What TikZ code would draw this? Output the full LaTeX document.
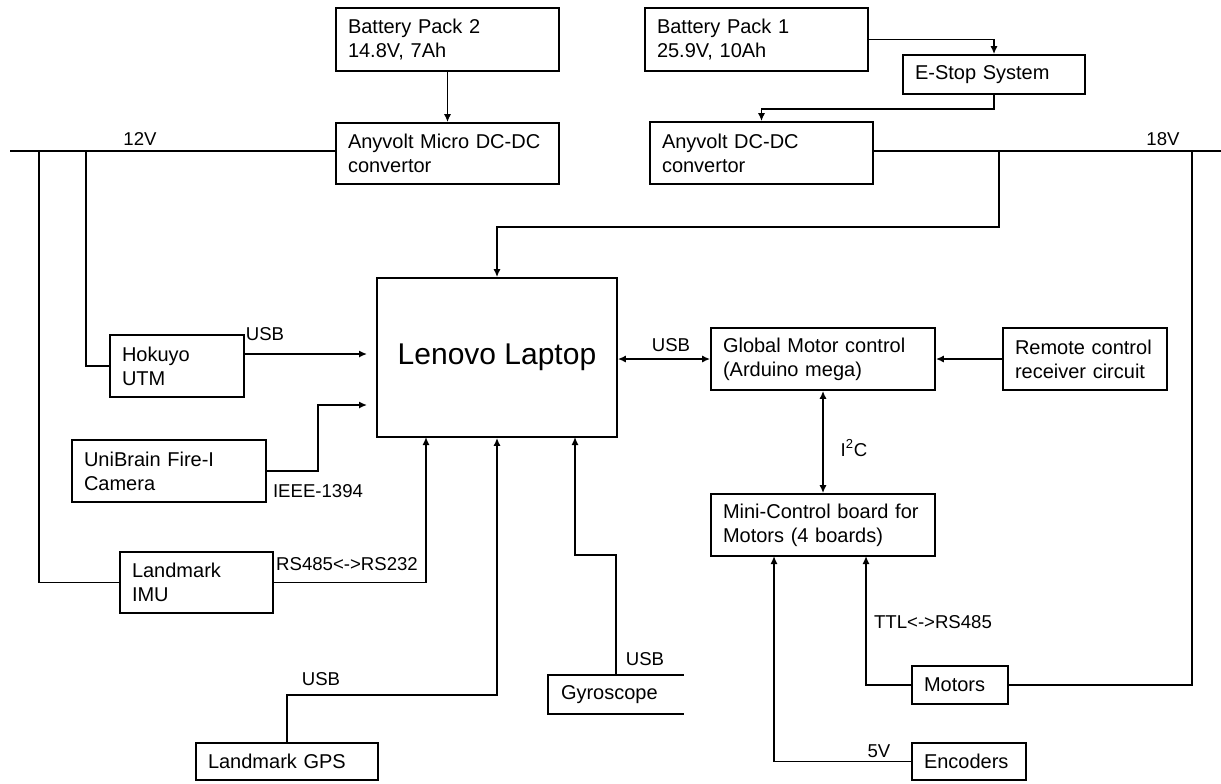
\documentclass[tikz,border=0pt]{standalone}
\usepackage{fontspec}
\setmainfont{Liberation Sans}
\usetikzlibrary{arrows.meta,positioning}

\begin{document}
\begin{tikzpicture}[x=0.5pt,y=-0.5pt,>={Latex[length=4pt,width=3.6pt]},line width=0.9pt,
  blk/.style={draw,align=left,inner xsep=6pt,inner ysep=0pt,font=\fontsize{10}{12}\selectfont},
  lbl/.style={font=\fontsize{9.3}{11}\selectfont,inner sep=0pt}]
\useasboundingbox (0,0) rectangle (1221,783);
\node[blk,text width=99.5pt,minimum height=31.5pt] (bp2) at (447.5,39.5) {Battery Pack 2\\14.8V, 7Ah};
\node[blk,text width=99.5pt,minimum height=30.5pt] (avm) at (447.5,153.5) {Anyvolt Micro DC-DC\\convertor};
\node[blk,text width=99.5pt,minimum height=31.5pt] (bp1) at (756.5,39.5) {Battery Pack 1\\25.9V, 10Ah};
\node[blk,text width=79pt,minimum height=19.5pt] (estop) at (994,74.5) {E-Stop System};
\node[blk,text width=99.5pt,minimum height=31pt] (avd) at (761.5,153) {Anyvolt DC-DC\\convertor};
\node[draw,minimum width=120pt,minimum height=79.5pt,font=\fontsize{15}{18}\selectfont] (lap) at (497,357.5) {Lenovo Laptop};
\node[blk,text width=55pt,minimum height=31pt] (huk) at (177,366) {Hokuyo\\UTM};
\node[blk,text width=85pt,minimum height=31pt] (cam) at (169,471) {UniBrain Fire-I\\Camera};
\node[blk,text width=64.5pt,minimum height=30.5pt] (imu) at (196.5,582.5) {Landmark\\IMU};
\node[blk,text width=79pt,minimum height=18.5pt] (gps) at (287,761.5) {Landmark GPS};
\node[blk,draw=none,text width=55pt,minimum height=18.5pt] (gyro) at (616,694.5) {Gyroscope};
\node[blk,text width=100pt,minimum height=31pt] (gmc) at (823,359) {Global Motor control\\(Arduino mega)};
\node[blk,text width=70pt,minimum height=31pt] (rem) at (1085,359) {Remote control\\receiver circuit};
\node[blk,text width=100pt,minimum height=31pt] (mini) at (823,525) {Mini-Control board for\\Motors (4 boards)};
\node[blk,text width=36pt,minimum height=19pt] (mot) at (960,685) {Motors};
\node[blk,text width=45pt,minimum height=18.5pt] (enc) at (969,761.5) {Encoders};

\coordinate (l12) at (10,151);
\coordinate (t1) at (39,151);
\coordinate (t2) at (86,151);
\coordinate (r18) at (1221,151);
\coordinate (t3) at (999,151);
\coordinate (t4) at (1192,151);
\coordinate (k1) at (999,227);
\coordinate (a1) at (367,354);
\coordinate (a2) at (367,405);
\coordinate (b1) at (426,437);
\coordinate (b3) at (575,437);
\coordinate (m1) at (774,556);
\coordinate (m2) at (866,556);

\draw (l12) -- (avm.west |- l12);
\draw (avd.east |- r18) -- (r18);
\draw[->] (bp2.south) -- (avm.north);
\draw[->] (bp1.east) -| (estop.north);
\draw[->] (estop.south) -- ++(0,14) -| (avd.north);
\draw (t1) |- (imu.west);
\draw (t2) |- (huk.west);
\draw[->] (t3) -- (k1) -| (lap.north);
\draw (t4) |- (mot.east);
\draw[->] (huk.east |- a1) -- (a1);
\draw[->] (cam.east) -- ++(51,0) |- (a2);
\draw[->] (imu.east) -| (b1);
\draw[->] (gps.north) -- ++(0,-47) -| (lap.south);
\draw[->] (gyro.north) -- ++(0,-120) -| (b3);
\draw (gyro.north east) -- (gyro.north west) -- (gyro.south west) -- (gyro.south east);
\draw[<->] (lap.east |- gmc.west) -- (gmc.west);
\draw[->] (rem.west) -- (gmc.east);
\draw[<->] (gmc.south) -- (mini.north);
\draw[->] (mot.west) -| (m2);
\draw[->] (enc.west) -| (m1);

\node[lbl] (v12) at (140,139) {12V};
\node[lbl] (v18) at (1163,139) {18V};
\node[lbl] (u1) at (265,334) {USB};
\node[lbl] (ieee) at (318,491) {IEEE-1394};
\node[lbl] (rs) at (347,564) {RS485<->RS232};
\node[lbl] (u2) at (321,679) {USB};
\node[lbl] (u3) at (645,659) {USB};
\node[lbl] (u4) at (671,345) {USB};
\node[lbl] (i2c) at (854,448) {I\textsuperscript{2}C};
\node[lbl] (ttl) at (933,622) {TTL<->RS485};
\node[lbl] (v5) at (879,751) {5V};
\end{tikzpicture}
\end{document}
